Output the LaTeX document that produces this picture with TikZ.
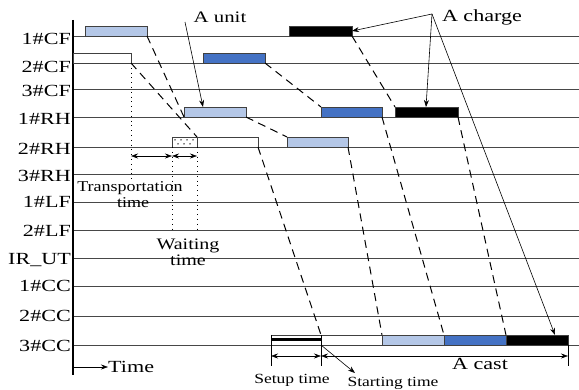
\documentclass[tikz,border=0pt]{standalone}
\usepackage{fontspec}
\usepackage{graphicx}
\setmainfont{Liberation Serif}
\usetikzlibrary{arrows.meta}
\definecolor{lb}{HTML}{B4C7E7}
\definecolor{db}{HTML}{4472C4}
\newcommand\sx[3]{\fontsize{#1}{#1}\selectfont\scalebox{#2}[1]{#3}}
\begin{document}
\begin{tikzpicture}[x=1pt,y=-1pt,
 rowline/.style={draw=black!72,line width=0.9pt},
 bar/.style={draw=black!75,line width=0.6pt,inner sep=0,outer sep=0,minimum height=10pt,anchor=south west},
 lab/.style={anchor=base east,inner sep=0},
 txt/.style={anchor=base,inner sep=0},
 dl/.style={line width=1pt,dash pattern=on 8pt off 5.5pt},
 arr/.style={line width=0.6pt,-{Stealth[length=7pt,width=5pt]}},
 darr/.style={line width=0.6pt,{Stealth[length=7pt,width=5pt]}-{Stealth[length=7pt,width=5pt]}},
 dotl/.style={line width=0.8pt,dash pattern=on 0.8pt off 4pt},
]
\useasboundingbox (0,0) rectangle (579,390);
\fill[white] (0,0) rectangle (579,390);
% row lines
\foreach \yy in {36,63,89,117,147,174,202,230,258,286,316,345}
  \draw[rowline] (73,\yy) -- (579,\yy);
% axis
\draw[line width=1.1pt] (73,20) -- (73,375);
% row labels
\node[lab] (l1) at (71,45) {\sx{17}{1.3}{1\#CF}};
\node[lab] (l2) at (71,73) {\sx{17}{1.3}{2\#CF}};
\node[lab] (l3) at (71,97) {\sx{17}{1.3}{3\#CF}};
\node[lab] (l4) at (71,125) {\sx{17}{1.3}{1\#RH}};
\node[lab] (l5) at (71,155) {\sx{17}{1.3}{2\#RH}};
\node[lab] (l6) at (71,182) {\sx{17}{1.3}{3\#RH}};
\node[lab] (l7) at (71,208) {\sx{17}{1.3}{1\#LF}};
\node[lab] (l8) at (71,237) {\sx{17}{1.3}{2\#LF}};
\node[lab] (l9) at (71,265) {\sx{17}{1.3}{IR\_UT}};
\node[lab] (l10) at (71,292) {\sx{17}{1.3}{1\#CC}};
\node[lab] (l11) at (71,322) {\sx{17}{1.3}{2\#CC}};
\node[lab] (l12) at (71,352) {\sx{17}{1.3}{3\#CC}};
% bars
\node[bar,fill=lb,minimum width=62pt] (c1a) at (85,36) {};
\node[bar,fill=black,minimum width=63pt] (c1k) at (289,36) {};
\node[bar,fill=white,minimum width=58pt] (c2w) at (73,63) {};
\node[bar,fill=db,minimum width=62pt] (c2b) at (203,63) {};
\node[bar,fill=lb,minimum width=62pt] (r1a) at (184,117) {};
\node[bar,fill=db,minimum width=61pt] (r1b) at (321,117) {};
\node[bar,fill=black,minimum width=63pt] (r1k) at (395,117) {};
\node[bar,fill=white,minimum width=25pt] (r2d) at (172,147) {};
\foreach \xx in {175,181,187,193} \fill (\xx,140) circle (0.75pt);
\foreach \xx in {178,184,190} \fill (\xx,144) circle (0.75pt);
\node[bar,fill=white,minimum width=61pt] (r2w) at (197,147) {};
\node[bar,fill=lb,minimum width=61pt] (r2a) at (287,147) {};
\node[bar,fill=white,minimum width=50pt] (su) at (271,345) {};
\node[bar,fill=white,minimum width=61pt] (cw) at (321,345) {};
\node[bar,fill=lb,minimum width=62pt] (ca) at (382,345) {};
\node[bar,fill=db,minimum width=62pt] (cb) at (444,345) {};
\node[bar,fill=black,minimum width=62pt] (ck) at (506,345) {};
\draw[line width=3pt] (su.west) -- (su.east);
% dashed connectors
\draw[dl] (c1a.south east) -- (r1a.south west);
\draw[dl] (c2w.south east) -- (r2w.north west);
\draw[dl] (c2b.south east) -- (r1b.north west);
\draw[dl] (r1a.south east) -- (r2a.north west);
\draw[dl] (c1k.south east) -- (r1k.north west);
\draw[dl] (r2w.south east) -- (cw.north west);
\draw[dl] (r2a.south east) -- (ca.north west);
\draw[dl] (r1b.south east) -- (cb.north west);
\draw[dl] (r1k.south east) -- (ck.north west);
% dotted guides
\coordinate (d1) at (131,180);
\coordinate (d2) at (172,232);
\coordinate (d3) at (197,232);
\draw[dotl] (c2w.south east) -- (d1);
\draw[dotl] (r2d.south west) -- (d2);
\draw[dotl] (r2d.south east) -- (d3);
\coordinate (p1) at (131,156);
\coordinate (p2) at (172,156);
\coordinate (p3) at (197,156);
\draw[darr] (p1) -- (p2);
\draw[darr] (p2) -- (p3);
% texts
\node[txt] (tt) at (130,192) {\sx{15}{1.2}{Transportation}};
\node[txt] (tt2) at (133,208) {\sx{15}{1.2}{time}};
\node[txt] (wt) at (188,250) {\sx{16}{1.25}{Waiting}};
\node[txt] (wt2) at (188,266) {\sx{16}{1.25}{time}};
\node[txt] (st) at (292,384) {\sx{14}{1.25}{Setup time}};
\node[txt] (sg) at (393,387) {\sx{14}{1.25}{Starting time}};
\node[txt] (cast) at (480,370) {\sx{17}{1.3}{A cast}};
\node[txt,anchor=base west] (tl) at (108,373) {\sx{17}{1.3}{Time}};
\node[txt] (au) at (220,23) {\sx{16}{1.3}{A unit}};
\node[txt] (ach) at (482,22) {\sx{17}{1.3}{A charge}};
% bottom ticks and arrows
\coordinate (k1) at (271,366);
\coordinate (k2) at (321,366);
\coordinate (k3) at (568,366);
\draw[line width=0.9pt] (su.north west) -- (k1);
\draw[line width=0.9pt] (su.north east) -- (k2);
\draw[line width=0.9pt] (ck.south east) -- (k3);
\coordinate (s1) at (271,356);
\coordinate (s2) at (321,356);
\coordinate (s3) at (568,356);
\draw[darr] (s1) -- (s2);
\draw[darr] (s2) -- (s3);
\coordinate (sg0) at (355,373);
\draw[arr] (su.south east) -- (sg0);
\coordinate (t0) at (73,367);
\draw[arr] (t0) -- (tl.base west |- t0);
% annotation arrows
\coordinate (au0) at (185,22);
\draw[arr] (au0) -- ([xshift=19pt]r1a.north west);
\coordinate (ac0) at (432,14);
\draw[arr] (ac0) -- (c1k.east);
\draw[arr] (ac0) -- ([xshift=31pt]r1k.north west);
\draw[arr] (ac0) -- ([xshift=49pt]ck.north west);
\end{tikzpicture}
\end{document}
